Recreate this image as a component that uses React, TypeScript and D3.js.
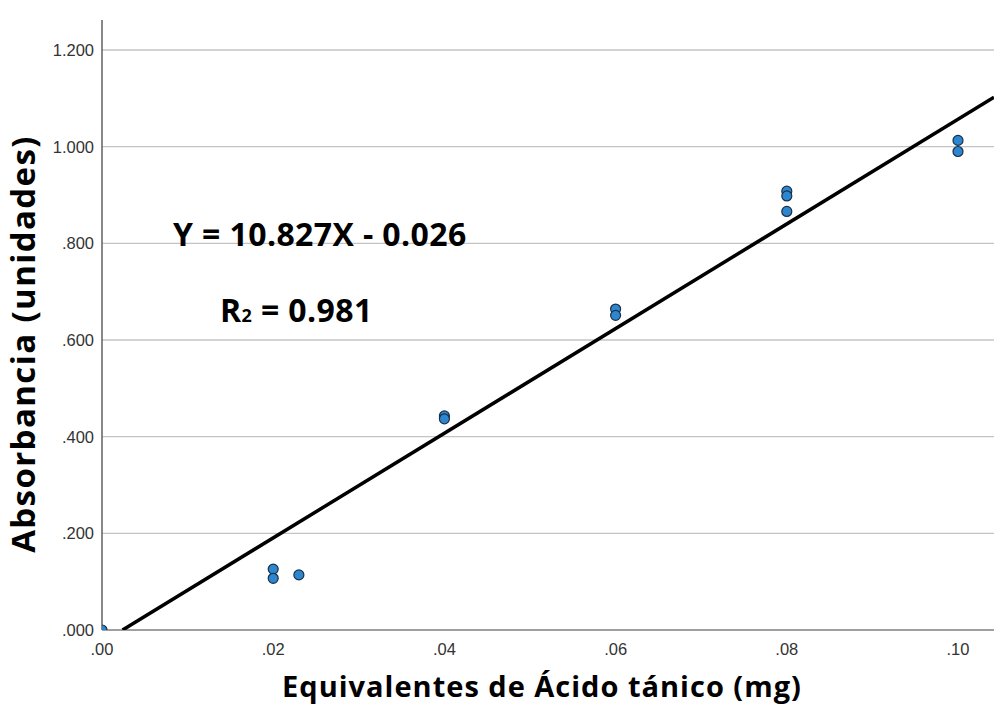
import React from "react";
import * as d3 from "d3";

const xValues = [0.0, 0.02, 0.02, 0.023, 0.04, 0.04, 0.06, 0.06, 0.08, 0.08, 0.08, 0.1, 0.1];
const yValues = [0.0, 0.126, 0.107, 0.114, 0.443, 0.437, 0.664, 0.651, 0.908, 0.898, 0.866, 1.013, 0.990];
const xTicks = [0, 0.02, 0.04, 0.06, 0.08, 0.1];
const yTicks = [0, 0.2, 0.4, 0.6, 0.8, 1.0, 1.2];
const slope = 10.827;
const intercept = -0.026;
const equationLabel = "Y = 10.827X - 0.026";
const r2Value = "0.981";

const W = 994;
const H = 718;

export default function App() {
  const x = d3.scaleLinear().domain([0, 0.1]).range([102, 958]);
  const y = d3.scaleLinear().domain([0, 1.2]).range([630, 50]);
  const left = 102, bottom = 630, top = 20, right = W;
  const xFmt = (v: number) => d3.format(".2f")(v).replace(/^0/, "");
  const yFmt = (v: number) => d3.format(".3f")(v).replace(/^0/, "");
  const x0 = -intercept / slope;
  const x1 = x.invert(right);
  const line = d3.line<[number, number]>().x(d => x(d[0])).y(d => y(d[1]));
  const pts: [number, number][] = [[x0, slope * x0 + intercept], [x1, slope * x1 + intercept]];
  const boldFont = "Open Sans, Noto Sans, sans-serif";
  const tickFont = "Liberation Sans, Arial, sans-serif";
  return (
    <svg width={W} height={H} style={{ position: "absolute", left: 0, top: 0, background: "#fff" }}>
      <defs>
        <clipPath id="plot"><rect x={left} y={top} width={right - left} height={bottom - top} /></clipPath>
      </defs>
      {yTicks.filter(t => t > 0).map(t => (
        <line key={t} x1={left} x2={right} y1={y(t)} y2={y(t)} stroke="#c4c4c4" strokeWidth={1.3} />
      ))}
      <line x1={left} x2={right} y1={bottom} y2={bottom} stroke="#808080" strokeWidth={1.5} />
      <line x1={left} x2={left} y1={top} y2={bottom} stroke="#606060" strokeWidth={1.5} />
      {yTicks.map(t => (
        <text key={t} x={94} y={y(t) + 6} textAnchor="end" fontFamily={tickFont} fontSize={16.5} fill="#333">{yFmt(t)}</text>
      ))}
      {xTicks.map(t => (
        <text key={t} x={x(t)} y={655} textAnchor="middle" fontFamily={tickFont} fontSize={16.5} fill="#333">{xFmt(t)}</text>
      ))}
      <g clipPath="url(#plot)">
        <path d={line(pts) || ""} stroke="#000" strokeWidth={3.5} fill="none" />
        {xValues.map((xv, i) => (
          <circle key={i} cx={x(xv)} cy={y(yValues[i])} r={5} fill="#2d87d0" stroke="#1b2f45" strokeWidth={1.2} />
        ))}
      </g>
      <text x={173} y={246} fontFamily={boldFont} fontWeight="bold" fontSize={32} letterSpacing={0.4} fill="#000">{equationLabel}</text>
      <text x={220} y={322} fontFamily={boldFont} fontWeight="bold" fontSize={32} letterSpacing={0.4} fill="#000">
        R<tspan fontSize={18}>2</tspan> = {r2Value}
      </text>
      <text transform={`translate(35,344) rotate(-90)`} textAnchor="middle" fontFamily={boldFont} fontWeight="bold" fontSize={33} letterSpacing={1.4} fill="#000">Absorbancia (unidades)</text>
      <text x={542} y={697} textAnchor="middle" fontFamily={boldFont} fontWeight="bold" fontSize={29} letterSpacing={1} fill="#000">Equivalentes de Ácido tánico (mg)</text>
    </svg>
  );
}
